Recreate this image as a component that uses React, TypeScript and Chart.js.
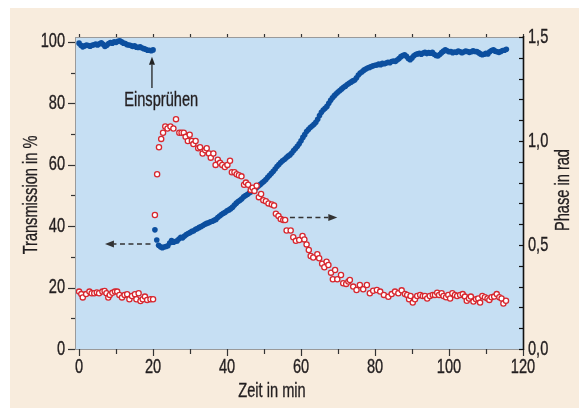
import React, { useEffect, useRef } from "react";
import { Chart, registerables } from "chart.js";

Chart.register(...registerables);

// ---- data ----
// Transmission (left axis, %), sampled every 0.5 min starting at t = 0
const transmissionStepMin = 0.5;
const transmission = [
  // 0 – 20 min (before spraying)
  99.6, 98.9, 98.4, 98.7, 99.0, 98.8, 98.6, 98.9, 99.1, 99.3,
  99.0, 99.4, 99.7, 99.2, 98.5, 98.9, 99.5, 99.8, 99.6, 100.0,
  99.8, 100.2, 100.4, 100.0, 99.6, 99.5, 99.1, 99.0, 98.8, 98.5,
  98.7, 98.3, 98.2, 98.4, 98.0, 97.8, 97.6, 97.3, 97.3, 97.1, 97.4,
  // 20.5 – 50 min
  38.8, 35.5, 33.8, 33.3, 33.0, 33.2, 33.4, 33.6, 34.5, 35.3,
  34.8, 35.0, 35.2, 35.8, 36.4, 36.2, 36.8, 37.3, 37.6, 37.9,
  38.3, 38.5, 39.0, 39.2, 39.6, 39.9, 40.2, 40.6, 40.9, 41.1,
  41.4, 41.6, 41.9, 42.2, 42.8, 43.3, 43.8, 44.2, 44.5, 45.0,
  45.3, 45.7, 46.2, 46.9, 47.5, 48.0, 48.4, 48.9, 49.6, 50.0,
  50.3, 50.8, 51.2, 51.6, 52.0, 52.6, 53.1, 53.6, 54.1, 54.6,
  // 50.5 – 80 min
  55.2, 55.9, 56.6, 57.2, 57.9, 58.6, 59.4, 60.1, 60.7, 61.3,
  61.7, 62.3, 62.8, 63.2, 63.8, 64.6, 65.3, 66.0, 66.8, 67.8,
  68.9, 69.8, 70.8, 71.5, 72.1, 72.6, 73.2, 73.8, 74.8, 76.0,
  77.1, 77.8, 78.4, 79.0, 80.0, 81.0, 81.8, 82.5, 83.1, 83.7,
  84.2, 84.7, 85.2, 85.6, 86.1, 86.5, 86.9, 87.3, 87.6, 88.3,
  89.2, 89.9, 90.3, 90.8, 91.2, 91.5, 91.7, 92.0, 92.2, 92.4,
  // 80.5 – 115.5 min
  92.5, 92.8, 92.6, 93.0, 92.9, 93.1, 93.4, 93.2, 93.6, 93.8,
  93.6, 94.1, 94.6, 95.2, 95.6, 95.8, 95.3, 94.6, 94.2, 94.8,
  95.5, 95.9, 96.1, 96.3, 96.0, 96.4, 96.6, 96.2, 96.5, 96.3,
  96.6, 96.0, 95.6, 95.4, 95.9, 96.5, 97.0, 97.4, 97.1, 96.8,
  96.9, 96.5, 96.7, 96.6, 97.0, 96.8, 96.5, 96.7, 97.0, 96.9,
  96.6, 96.8, 97.1, 96.9, 96.9, 96.5, 96.1, 95.8, 96.0, 96.3,
  96.1, 96.8, 97.2, 97.4, 97.0, 96.8, 96.6, 96.9, 97.2, 97.3, 97.6,
];

// Phase (right axis, rad)
const phaseTime = [
  0, 0.6, 1.0, 1.9, 2.8, 3.4, 4.1, 4.8, 5.4, 6.3,
  6.9, 7.4, 7.9, 8.3, 9.0, 9.7, 10.3, 10.9, 11.6, 12.3,
  13.0, 13.6, 14.3, 15.1, 15.5, 16.1, 16.6, 17.2, 17.8, 18.4,
  19.3, 20.0,
  20.5, 21.1, 21.6, 22.2, 22.7, 23.3, 23.9, 24.7, 25.5, 26.2,
  27.1, 27.7, 28.3, 28.8, 29.4, 29.9, 30.5, 30.9, 31.5, 32.2,
  32.7, 33.4, 34.1, 34.5, 35.1, 35.6, 36.3, 36.9, 37.5, 38.1,
  38.7, 39.4, 40.1, 40.8, 41.3, 42.0, 42.6, 43.2, 43.9, 44.6,
  45.1, 45.7, 46.4, 46.9, 47.4, 48.0, 48.6, 49.2, 49.8, 50.5,
  51.2, 52.1, 52.7, 53.2, 53.9, 54.5, 55.2, 55.7, 56.1, 57.2,
  57.9, 58.6, 59.5, 60.4, 60.9, 61.5, 62.1, 62.6, 63.3, 64.4,
  64.9, 65.7, 66.3, 66.9, 67.4, 68.1, 68.6, 69.2, 69.8, 70.8,
  71.4, 72.2, 72.8, 73.2, 74.1, 75.0, 75.9, 76.8, 77.8, 78.6,
  79.5, 80.5, 81.4, 82.4, 83.6, 84.5, 85.4, 86.3, 87.2, 88.1,
  88.7, 89.2, 89.6, 90.2, 90.8, 91.4, 92.2, 92.9, 93.5, 94.1,
  94.8, 95.6, 96.2, 96.8, 97.3, 98.0, 98.5, 99.2, 99.8, 100.3,
  100.9, 101.6, 102.2, 103.0, 103.7, 104.3, 104.8, 105.4, 105.9, 106.6,
  107.3, 107.9, 108.4, 109.0, 109.7, 110.4, 110.9, 111.5, 112.2, 112.9,
  113.6, 114.2, 114.7, 115.4,
];
const phase = [
  0.276, 0.264, 0.248, 0.264, 0.276, 0.268, 0.268, 0.272, 0.268, 0.276,
  0.279, 0.268, 0.247, 0.26, 0.27, 0.276, 0.276, 0.26, 0.248, 0.26,
  0.263, 0.239, 0.255, 0.263, 0.239, 0.268, 0.231, 0.239, 0.252, 0.236,
  0.239, 0.239,
  0.644, 0.84, 0.97, 1.01, 1.04, 1.07, 1.06, 1.07, 1.06, 1.105,
  1.04, 1.04, 1.04, 1.02, 1.0, 1.03, 1.0, 0.985, 1.0, 0.965,
  0.97, 0.94, 0.955, 0.965, 0.94, 0.92, 0.94, 0.885, 0.91, 0.895,
  0.885, 0.875, 0.885, 0.905, 0.85, 0.85, 0.84, 0.835, 0.83, 0.79,
  0.8, 0.79, 0.765, 0.775, 0.76, 0.785, 0.73, 0.745, 0.715, 0.71,
  0.7, 0.695, 0.69, 0.65, 0.64, 0.625, 0.62, 0.62, 0.57, 0.57,
  0.537, 0.52, 0.524, 0.543, 0.527, 0.503, 0.476, 0.447, 0.44, 0.456,
  0.436, 0.41, 0.393, 0.42, 0.404, 0.367, 0.335, 0.38, 0.335, 0.356,
  0.316, 0.313, 0.324, 0.332, 0.3, 0.284, 0.308, 0.287, 0.308, 0.268,
  0.28, 0.284, 0.276, 0.26, 0.251, 0.264, 0.276, 0.268, 0.282, 0.265,
  0.26, 0.239, 0.255, 0.223, 0.239, 0.255, 0.26, 0.255, 0.255, 0.243,
  0.255, 0.26, 0.26, 0.271, 0.26, 0.268, 0.255, 0.249, 0.26, 0.243,
  0.268, 0.26, 0.255, 0.26, 0.264, 0.252, 0.232, 0.243, 0.252, 0.228,
  0.239, 0.243, 0.223, 0.255, 0.249, 0.243, 0.236, 0.249, 0.252, 0.264,
  0.249, 0.243, 0.219, 0.232,
];

// tick labels
const xLabelValues = [0, 20, 40, 60, 80, 100, 120];
const leftLabelValues = [0, 20, 40, 60, 80, 100];
const rightLabelValues = [0, 0.5, 1.0, 1.5];
const rightLabelText = ["0,0", "0,5", "1,0", "1,5"];

// text
const xTitle = "Zeit in min";
const leftTitle = "Transmission in %";
const rightTitle = "Phase in rad";
const sprayLabel = "Einsprühen";

// ---- styles ----
const FONT = '"Liberation Sans", Arial, sans-serif';
const FONT_SIZE = 20;
const NARROW = 0.73;
const TEXT = "#231f20";
const PAGE_BG = "#f8ecdd";
const PLOT_BG = "#c6dff3";
const BLUE = "#0c4f9f";
const RED = "#d7262e";

const isIn = (arr: number[], v: number) => arr.some((a) => Math.abs(a - v) < 1e-6);

function narrowText(
  ctx: CanvasRenderingContext2D,
  text: string,
  x: number,
  y: number,
  align: CanvasTextAlign,
  rotate = 0
) {
  ctx.save();
  ctx.translate(x, y);
  if (rotate) ctx.rotate(rotate);
  ctx.scale(NARROW, 1);
  ctx.font = `${FONT_SIZE}px ${FONT}`;
  ctx.fillStyle = TEXT;
  ctx.strokeStyle = TEXT;
  ctx.lineWidth = 0.35;
  ctx.setLineDash([]);
  ctx.textAlign = align;
  ctx.textBaseline = "middle";
  ctx.fillText(text, 0, 0);
  ctx.strokeText(text, 0, 0);
  ctx.restore();
}

function arrow(ctx: CanvasRenderingContext2D, x1: number, y1: number, x2: number, y2: number, dashed: boolean, headLen: number, headW: number) {
  const ang = Math.atan2(y2 - y1, x2 - x1);
  const bx = x2 - Math.cos(ang) * headLen;
  const by = y2 - Math.sin(ang) * headLen;
  ctx.save();
  ctx.setLineDash(dashed ? [5, 3.5] : []);
  ctx.beginPath();
  ctx.moveTo(x1, y1);
  ctx.lineTo(bx, by);
  ctx.stroke();
  ctx.setLineDash([]);
  ctx.beginPath();
  ctx.moveTo(x2, y2);
  ctx.lineTo(bx + Math.sin(ang) * headW, by - Math.cos(ang) * headW);
  ctx.lineTo(bx - Math.sin(ang) * headW, by + Math.cos(ang) * headW);
  ctx.closePath();
  ctx.fill();
  ctx.restore();
}

const decor = {
  id: "decor",
  beforeDraw(chart: any) {
    const { ctx, chartArea: a } = chart;
    ctx.save();
    ctx.fillStyle = PLOT_BG;
    ctx.fillRect(a.left, a.top, a.right - a.left, a.bottom - a.top);
    ctx.restore();
  },
  afterDraw(chart: any) {
    const { ctx, chartArea: a, scales } = chart;
    const x = scales.x, y = scales.y, y2 = scales.y2;
    const seg = (x1: number, y1: number, x2: number, y2_: number) => {
      ctx.beginPath();
      ctx.moveTo(x1, y1);
      ctx.lineTo(x2, y2_);
      ctx.stroke();
    };
    ctx.save();
    // frame
    ctx.strokeStyle = "#9a9a9a";
    ctx.lineWidth = 1;
    seg(a.left, a.top + 0.5, a.right, a.top + 0.5);
    seg(a.left + 0.5, a.top, a.left + 0.5, a.bottom);
    seg(a.left, a.bottom + 0.5, a.right, a.bottom + 0.5);
    // bottom / top ticks
    ctx.strokeStyle = "#333";
    ctx.lineWidth = 1.2;
    for (const t of x.ticks) {
      const px = Math.round(x.getPixelForValue(t.value)) + 0.5;
      const major = isIn(xLabelValues, t.value);
      seg(px, a.bottom, px, a.bottom + (major ? 7 : 5));
      seg(px, a.top, px, a.top - 3);
    }
    // left ticks
    for (const t of y.ticks) {
      const py = Math.round(y.getPixelForValue(t.value)) + 0.5;
      const major = isIn(leftLabelValues, t.value);
      seg(a.left, py, a.left - (major ? 7 : 4), py);
    }
    // right axis
    ctx.strokeStyle = "#111";
    ctx.lineWidth = 1.6;
    seg(a.right + 0.5, a.bottom + 1, a.right + 0.5, a.top - 1);
    ctx.lineWidth = 1.2;
    for (const t of y2.ticks) {
      const py = Math.round(y2.getPixelForValue(t.value)) + 0.5;
      seg(a.right, py, a.right - 4, py);
    }

    // tick labels
    xLabelValues.forEach((v) => narrowText(ctx, String(v), x.getPixelForValue(v), a.bottom + 18, "center"));
    leftLabelValues.forEach((v) => narrowText(ctx, String(v), a.left - 10, y.getPixelForValue(v), "right"));
    rightLabelValues.forEach((v, i) => narrowText(ctx, rightLabelText[i], a.right + 5, y2.getPixelForValue(v), "left"));

    // annotations
    ctx.strokeStyle = "#222";
    ctx.fillStyle = "#222";
    ctx.lineWidth = 1.3;
    const sx = x.getPixelForValue(19.7);
    arrow(ctx, sx, y.getPixelForValue(85), sx, y.getPixelForValue(95.2), false, 8, 3);
    ctx.lineWidth = 1.6;
    ctx.strokeStyle = "#333";
    ctx.fillStyle = "#333";
    const ly = y.getPixelForValue(34.2);
    arrow(ctx, x.getPixelForValue(19.3), ly, x.getPixelForValue(7.0), ly, true, 9, 3.5);
    const ry = y2.getPixelForValue(0.632);
    arrow(ctx, x.getPixelForValue(57.0), ry, x.getPixelForValue(69.8), ry, true, 9, 3.5);

    // texts
    narrowText(ctx, sprayLabel, x.getPixelForValue(22.2), y.getPixelForValue(80.8), "center");
    narrowText(ctx, xTitle, 272, 391, "center");
    narrowText(ctx, leftTitle, 31, 195, "center", -Math.PI / 2);
    narrowText(ctx, rightTitle, 563, 190, "center", -Math.PI / 2);
    ctx.restore();
  },
};

export default function App() {
  const ref = useRef<HTMLCanvasElement | null>(null);
  useEffect(() => {
    if (!ref.current) return;
    const blueData = transmission.map((v, i) => ({ x: i * transmissionStepMin, y: v }));
    const redData = phase.map((v, i) => ({ x: phaseTime[i], y: v }));
    const hiddenTicks = { display: false };
    const chart = new Chart(ref.current, {
      type: "scatter",
      data: {
        datasets: [
          {
            label: rightTitle,
            data: redData,
            yAxisID: "y2",
            xAxisID: "x",
            pointRadius: 2.6,
            pointBorderWidth: 1.3,
            pointBorderColor: RED,
            pointBackgroundColor: "#ffffff",
            showLine: false,
          },
          {
            label: leftTitle,
            data: blueData,
            yAxisID: "y",
            xAxisID: "x",
            pointRadius: 2.8,
            pointBorderWidth: 0,
            pointBackgroundColor: BLUE,
            pointBorderColor: BLUE,
            showLine: false,
          },
        ],
      },
      options: {
        responsive: false,
        animation: false,
        layout: { padding: 0 },
        plugins: { legend: { display: false }, tooltip: { enabled: false } },
        events: [],
        scales: {
          x: {
            type: "linear",
            position: "bottom",
            min: -1.1,
            max: 120,
            afterFit: (s: any) => { s.height = 61; },
            ticks: { ...hiddenTicks, stepSize: 10, includeBounds: false, autoSkip: false },
            grid: { display: false },
            border: { display: false },
          },
          xTop: {
            type: "linear",
            position: "top",
            min: -1.1,
            max: 120,
            afterFit: (s: any) => { s.height = 37; },
            ticks: hiddenTicks,
            grid: { display: false },
            border: { display: false },
          },
          y: {
            type: "linear",
            position: "left",
            min: 0,
            max: 101.6,
            afterFit: (s: any) => { s.width = 75; },
            ticks: { ...hiddenTicks, stepSize: 10, includeBounds: false, autoSkip: false },
            grid: { display: false },
            border: { display: false },
          },
          y2: {
            type: "linear",
            position: "right",
            min: 0,
            max: 1.5,
            afterFit: (s: any) => { s.width = 56; },
            ticks: { ...hiddenTicks, stepSize: 0.1, includeBounds: false, autoSkip: false },
            grid: { display: false },
            border: { display: false },
          },
        },
      } as any,
      plugins: [decor],
    });
    return () => chart.destroy();
  }, []);

  return (
    <div style={{ position: "fixed", left: 0, top: 0, width: 579, height: 410, background: "#ffffff", overflow: "hidden" }}>
      <div style={{ position: "absolute", left: 10, top: 8, width: 569, height: 400, background: PAGE_BG }} />
      <canvas ref={ref} width={579} height={410} style={{ position: "absolute", left: 0, top: 0, width: 579, height: 410 }} />
    </div>
  );
}
